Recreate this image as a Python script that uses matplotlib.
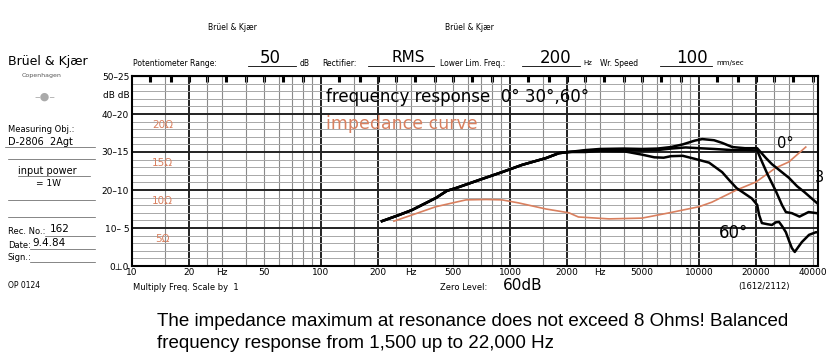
import matplotlib
matplotlib.use("Agg")
import matplotlib.pyplot as plt
import numpy as np

# frequency response curves (Hz, dB) read from the recorder paper
rise_f = [210, 258, 302, 405, 464, 517, 683, 907, 1157, 1550, 1816, 2050]
rise_db = [11.8, 13.4, 14.7, 17.9, 19.8, 20.5, 22.6, 24.7, 26.6, 28.4, 29.7, 30.0]

deg0_f = rise_f + [2500, 3000, 4000, 5000, 6000, 7100, 8200, 9500, 10400, 12000, 13250,
                   15000, 17500, 20300, 22600, 24300, 26500, 29900, 33000, 36000, 42000]
deg0_db = rise_db + [30.5, 30.8, 30.9, 30.8, 30.9, 31.3, 32.0, 33.0, 33.4, 33.1, 32.4,
                     31.3, 31.0, 31.0, 28.4, 26.8, 25.3, 23.2, 21.0, 19.5, 16.6]

deg30_f = rise_f + [2500, 3000, 4000, 5000, 6000, 7100, 8500, 10000, 12000, 15000, 17500,
                    20300, 21500, 23000, 25500, 27500, 28800, 31000, 34000, 38000, 42000]
deg30_db = rise_db + [30.3, 30.6, 30.6, 30.4, 30.5, 30.9, 31.2, 31.0, 30.8, 30.5, 30.5,
                      30.4, 27.5, 24.2, 19.7, 16.0, 14.2, 13.9, 13.0, 14.2, 13.9]

deg60_f = rise_f + [2500, 3000, 4000, 5000, 5800, 6500, 7100, 8200, 9500, 11300, 13250, 14500,
                    15800, 17500, 19000, 20300, 20800, 21500, 23000, 24300, 25500, 26500,
                    27500, 28800, 30000, 31000, 32100, 33500, 35000, 38200, 41600, 42500]
deg60_db = rise_db + [30.0, 30.3, 30.2, 29.3, 28.6, 28.5, 28.9, 29.0, 28.2, 27.2, 24.7, 22.5,
                      20.5, 19.0, 17.8, 16.1, 13.4, 11.3, 11.0, 10.8, 11.5, 11.6,
                      10.5, 8.9, 6.5, 4.7, 3.7, 5.0, 6.3, 8.2, 8.9, 8.8]

# impedance curve (Hz, Ohm), drawn on the 0-25 scale (= dB / 2)
imp_f = [243, 302, 405, 517, 585, 750, 907, 1110, 1550, 2050, 2300, 3340, 4990, 6970,
         10000, 11700, 15800, 20000, 25400, 29900, 36700]
imp_ohm = [5.9, 6.7, 7.8, 8.4, 8.7, 8.75, 8.7, 8.3, 7.5, 7.0, 6.45, 6.2, 6.3, 7.0,
           7.8, 8.4, 10.0, 11.05, 12.9, 13.7, 15.65]

# axis labels
xtick_f = [10, 20, 30, 50, 100, 200, 300, 500, 1000, 2000, 3000, 5000, 10000, 20000, 40000]
xtick_lab = ["10", "20", "Hz", "50", "100", "200", "Hz", "500", "1000", "2000", "Hz",
             "5000", "10000", "20000", "40000"]
ytick_db = [0, 10, 20, 30, 40, 45, 50]
ytick_lab = ["0\u22a50", "10\u2013 5", "20\u201310", "30\u201315", "40\u201320", "dB dB", "50\u201325"]
ohm_lab = [20, 15, 10, 5]

RED = "#d9805f"
W, H = 840, 364

fig = plt.figure(figsize=(8.4, 3.64), dpi=100)
fig.patch.set_facecolor("white")
ax = fig.add_axes([132 / W, 1 - 266 / H, (818 - 132) / W, (266 - 76) / H])
ax.set_xscale("log")
ax.set_xlim(10, 42600)
ax.set_ylim(0, 50)

# recorder paper grid
for dec in [10, 100, 1000, 10000]:
    for m in [1, 1.5, 2, 2.5, 3, 4, 5, 6, 7, 8, 9]:
        f = dec * m
        if f > 42600:
            continue
        if m in (1, 2):
            ax.axvline(f, color="#222222", lw=1.4, zorder=1)
        else:
            ax.axvline(f, color="#8a8a8a", lw=0.8, zorder=1)
for d in range(2, 50, 2):
    if d % 10 == 0:
        ax.axhline(d, color="#222222", lw=1.4, zorder=1)
    else:
        ax.axhline(d, color="#a8a8a8", lw=0.7, zorder=1)

ax.plot(imp_f, np.array(imp_ohm) * 2, color=RED, lw=1.2, zorder=3)
ax.plot(deg60_f, deg60_db, color="black", lw=1.8, zorder=4)
ax.plot(deg30_f, deg30_db, color="black", lw=1.8, zorder=4)
ax.plot(deg0_f, deg0_db, color="black", lw=1.8, zorder=4)

ax.set_xticks(xtick_f)
ax.set_xticklabels(xtick_lab, fontsize=6.5)
ax.xaxis.set_minor_locator(matplotlib.ticker.NullLocator())
ax.set_yticks(ytick_db)
ax.set_yticklabels(ytick_lab, fontsize=6.5)
ax.tick_params(axis="x", length=0, pad=1.5)
ax.tick_params(axis="y", length=0, pad=2)
for s in ax.spines.values():
    s.set_linewidth(1.5)

# third-octave marks along the top edge
top = ax.secondary_xaxis("top")
thirds = [12.5, 16, 20, 25, 31.5, 40, 50, 63, 80]
top.set_xticks([t * k for k in [1, 10, 100, 1000] for t in thirds] + [10000 * t for t in thirds[:4]])
top.set_xticklabels([])
top.xaxis.set_minor_locator(matplotlib.ticker.NullLocator())
top.tick_params(direction="in", length=4, width=2.2, color="black")

# texts inside the chart
ax.text(106, 44.5, "frequency response  0\u00b0 30\u00b0,60\u00b0", fontsize=12, va="center")
ax.text(106, 37.3, "impedance curve", fontsize=12.5, color=RED, va="center")
for o in ohm_lab:
    ax.text(14.5, o * 2 - 3, f"{o}\u03a9", fontsize=7.5, color=RED, ha="center", va="center")
ax.text(28500, 32.3, "0\u00b0", fontsize=10.5, ha="center", va="center")
ax.text(41000, 23.3, "3", fontsize=10.5, ha="left", va="center")
ax.text(15300, 8.6, "60\u00b0", fontsize=12, ha="center", va="center")


def ft(x, y, s, **kw):
    kw.setdefault("va", "center")
    fig.text(x / W, 1 - y / H, s, **kw)


# header
ft(208, 28, "Br\u00fcel & Kj\u00e6r", fontsize=5.5)
ft(445, 28, "Br\u00fcel & Kj\u00e6r", fontsize=5.5)
ft(133, 63, "Potentiometer Range:", fontsize=5.5)
ft(270, 58, "50", fontsize=12, ha="center")
ft(300, 63, "dB", fontsize=5.5)
ft(322, 63, "Rectifier:", fontsize=5.5)
ft(408, 58, "RMS", fontsize=11, ha="center")
ft(440, 63, "Lower Lim. Freq.:", fontsize=5.5)
ft(556, 58, "200", fontsize=12, ha="center")
ft(583, 63, "Hz", fontsize=5)
ft(600, 63, "Wr. Speed", fontsize=5.5)
ft(692, 58, "100", fontsize=12, ha="center")
ft(716, 63, "mm/sec", fontsize=5)
for x0, x1 in [(248, 296), (368, 434), (522, 580), (660, 712)]:
    fig.add_artist(plt.Line2D([x0 / W, x1 / W], [1 - 66 / H] * 2, color="black", lw=0.6))

# left column
ft(8, 62, "Br\u00fcel & Kj\u00e6r", fontsize=9)
ft(22, 75, "Copenhagen", fontsize=4.5, color="#555555")
ft(45, 97, "\u2013\u25cf\u2013", fontsize=8, color="#aaaaaa", ha="center")
ft(8, 129, "Measuring Obj.:", fontsize=6)
ft(8, 142, "D-2806  2Agt", fontsize=7)
ft(18, 171, "input power", fontsize=7)
ft(36, 184, "= 1W", fontsize=6.5)
ft(8, 231, "Rec. No.:", fontsize=6)
ft(50, 229, "162", fontsize=7.5)
ft(8, 245, "Date:", fontsize=6)
ft(32, 243, "9.4.84", fontsize=7.5)
ft(8, 258, "Sign.:", fontsize=6)
ft(8, 285, "OP 0124", fontsize=5.5)
for y, x0, x1 in [(147, 5, 95), (159, 8, 95), (176, 18, 90), (200, 8, 95), (217, 8, 95),
                  (236, 45, 95), (249, 30, 95), (262, 30, 95)]:
    fig.add_artist(plt.Line2D([x0 / W, x1 / W], [1 - y / H] * 2, color="#555555", lw=0.5))

# bottom labels of the chart
ft(133, 287, "Multiply Freq. Scale by  1", fontsize=6)
ft(440, 288, "Zero Level:", fontsize=6)
ft(503, 285, "60dB", fontsize=11)
ft(738, 287, "(1612/2112)", fontsize=6)

# caption
ft(157, 322, "The impedance maximum at resonance does not exceed 8 Ohms! Balanced",
   fontsize=13.5, family="Liberation Sans")
ft(157, 344, "frequency response from 1,500 up to 22,000 Hz", fontsize=13.5, family="Liberation Sans")

fig.savefig("out.png", dpi=100, facecolor="white")
